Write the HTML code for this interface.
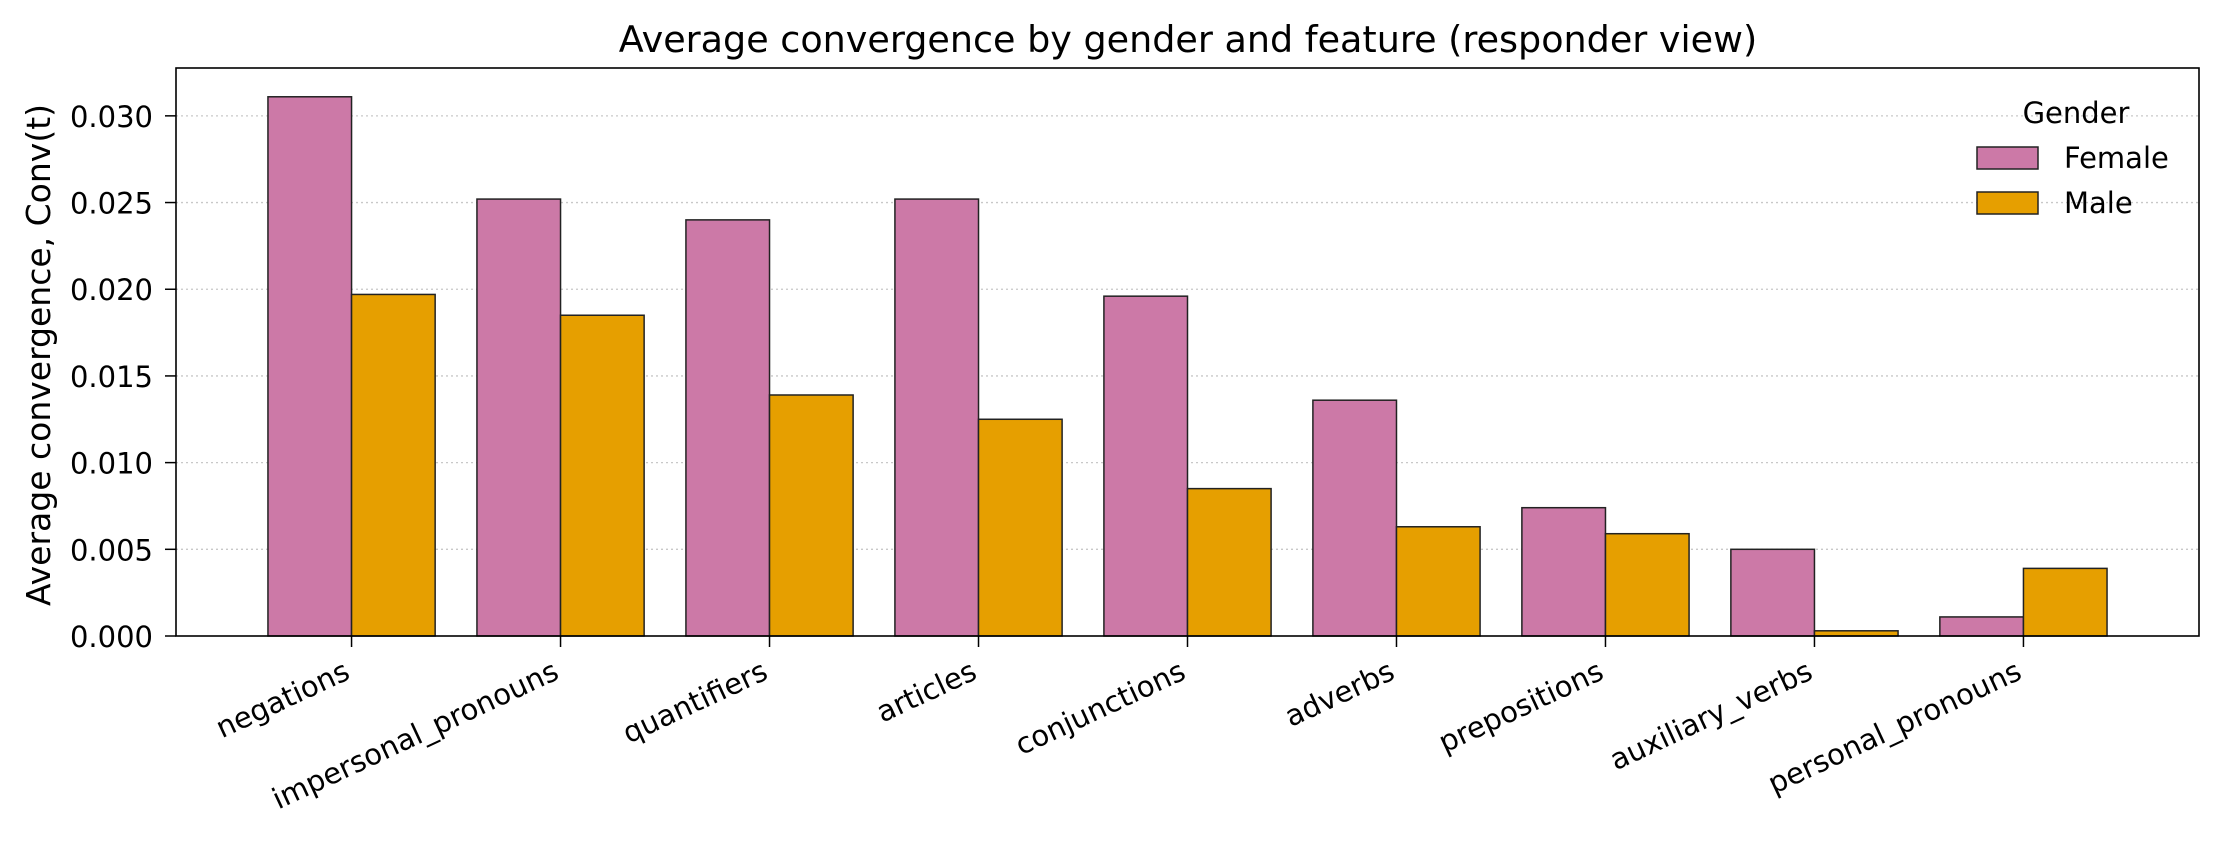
<!DOCTYPE html>
<html><head><meta charset="utf-8"><style>
html,body{margin:0;padding:0;background:#fff;}
svg{display:block;font-family:"DejaVu Sans","Liberation Sans",sans-serif;}
</style></head><body>
<svg id="chart" width="2222" height="846" viewBox="0 0 2222 846" xmlns="http://www.w3.org/2000/svg">
<rect width="2222" height="846" fill="#fff"/>
<text x="1188" y="52" text-anchor="middle" font-size="36.5" fill="#000">Average convergence by gender and feature (responder view)</text>
<text transform="translate(50,355) rotate(-90)" text-anchor="middle" font-size="33" fill="#000">Average convergence, Conv(t)</text>
<g id="grid"></g><g id="bars"></g><g id="axes"></g>
<g>
<text x="2076" y="123" text-anchor="middle" font-size="29">Gender</text>
<rect x="1977" y="147" width="61" height="22" fill="#cc79a7" stroke="#222" stroke-width="1.5"/>
<text x="2064" y="168" font-size="29">Female</text>
<rect x="1977" y="192" width="61" height="22" fill="#e69f00" stroke="#222" stroke-width="1.5"/>
<text x="2064" y="213" font-size="29">Male</text>
</g>
</svg>
<script>
const categories = ["negations","impersonal_pronouns","quantifiers","articles","conjunctions","adverbs","prepositions","auxiliary_verbs","personal_pronouns"];
const femaleValues = [0.0311,0.0252,0.0240,0.0252,0.0196,0.0136,0.0074,0.0050,0.0011];
const maleValues = [0.0197,0.0185,0.0139,0.0125,0.0085,0.0063,0.0059,0.0003,0.0039];
const yTicks = [0,0.005,0.010,0.015,0.020,0.025,0.030];
const yTickLabels = ["0.000","0.005","0.010","0.015","0.020","0.025","0.030"];

const NS="http://www.w3.org/2000/svg";
const L=176,R=2199,T=68,B=636;
const xMin=-0.84,xMax=8.84,yMax=0.03276;
const xs=v=>L+(v-xMin)/(xMax-xMin)*(R-L);
const ys=v=>B-v/yMax*(B-T);
function mk(tag,attrs,parent){const e=document.createElementNS(NS,tag);for(const k in attrs)e.setAttribute(k,attrs[k]);parent.appendChild(e);return e;}
const grid=document.getElementById('grid'),bars=document.getElementById('bars'),axes=document.getElementById('axes');
yTicks.forEach((t,i)=>{
  const y=ys(t);
  if(t>0){const g=mk('line',{x1:L,x2:R,y1:y,y2:y,stroke:'#c8c8c8','stroke-width':1.3,'stroke-dasharray':'2,3'},grid);
  
  }
  const tk=mk('line',{x1:L-11,x2:L,y1:y,y2:y,stroke:'#000','stroke-width':1.5},axes);
  
  
  const tx=mk('text',{x:153,y:y+11,'text-anchor':'end','font-size':29},axes);
  tx.textContent=yTickLabels[i];
  
  
});
const w=0.4;
categories.forEach((c,i)=>{
  const f=mk('rect',{x:xs(i-w),y:ys(femaleValues[i]),width:xs(i)-xs(i-w),height:B-ys(femaleValues[i]),fill:'#cc79a7',stroke:'#222','stroke-width':1.5},bars);
  
  
  const m=mk('rect',{x:xs(i),y:ys(maleValues[i]),width:xs(i+w)-xs(i),height:B-ys(maleValues[i]),fill:'#e69f00',stroke:'#222','stroke-width':1.5},bars);
  
  
  const x=xs(i);
  const tk=mk('line',{x1:x,x2:x,y1:B,y2:B+11,stroke:'#000','stroke-width':1.5},axes);
  
  
  const tx=mk('text',{transform:`translate(${x},678) rotate(-25)`,'text-anchor':'end','font-size':29},axes);
  tx.textContent=c;
  
  
});
const fr=mk('rect',{x:L,y:T,width:R-L,height:B-T,fill:'none',stroke:'#000','stroke-width':1.6},axes);


</script>
</body></html>
